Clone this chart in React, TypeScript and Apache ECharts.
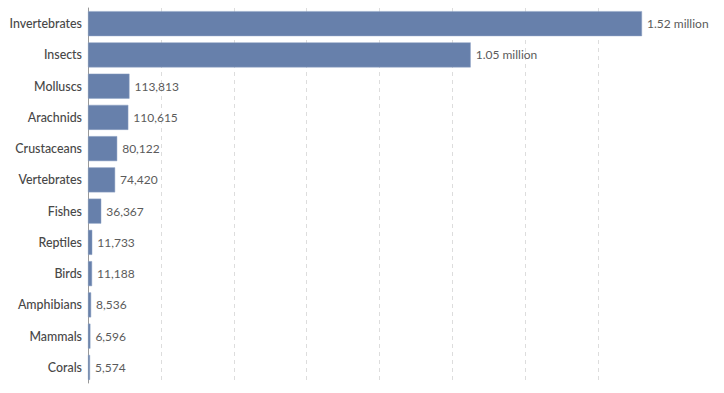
import React, { useEffect, useRef } from "react";
import * as echarts from "echarts";

const categories = [
  "Invertebrates",
  "Insects",
  "Molluscs",
  "Arachnids",
  "Crustaceans",
  "Vertebrates",
  "Fishes",
  "Reptiles",
  "Birds",
  "Amphibians",
  "Mammals",
  "Corals",
];

const values = [
  1520000, 1050000, 113813, 110615, 80122, 74420, 36367, 11733, 11188, 8536, 6596, 5574,
];

function fmt(v: number): string {
  if (v >= 1e6) return (v / 1e6).toFixed(2) + " million";
  return v.toLocaleString("en-US");
}

export default function App() {
  const ref = useRef<HTMLDivElement>(null);
  useEffect(() => {
    if (!ref.current) return;
    const chart = echarts.init(ref.current, undefined, { renderer: "svg" });
    chart.setOption({
      animation: false,
      grid: { left: 88, right: 82, top: 8, bottom: 10, containLabel: false },
      xAxis: {
        type: "value",
        min: 0,
        max: 1520000,
        interval: 200000,
        axisLabel: { show: false },
        axisLine: { show: false },
        axisTick: { show: false },
        splitLine: {
          show: true,
          showMinLine: false,
          showMaxLine: false,
          lineStyle: { color: "#dddddd", type: [4, 4], width: 1 },
        },
      },
      yAxis: {
        type: "category",
        data: categories,
        inverse: true,
        axisLine: { show: true, lineStyle: { color: "#999999", width: 1 } },
        axisTick: { show: false },
        axisLabel: {
          margin: 6,
          color: "#474747",
          fontFamily: "Lato",
          fontSize: 12.4,
          fontWeight: 500,
        },
        splitLine: { show: false },
      },
      series: [
        {
          type: "bar",
          data: values,
          barCategoryGap: "20%",
          itemStyle: { color: "#6780ab", borderColor: "#8fa2c4", borderWidth: 0.5 },
          label: {
            show: true,
            position: "right",
            distance: 5,
            color: "#5b5b5b",
            fontFamily: "Lato",
            fontSize: 12,
            formatter: (p: any) => fmt(p.value),
          },
        },
      ],
    });
    return () => chart.dispose();
  }, []);
  return <div ref={ref} style={{ width: 724, height: 393, position: "absolute", left: 0, top: 0 }} />;
}
